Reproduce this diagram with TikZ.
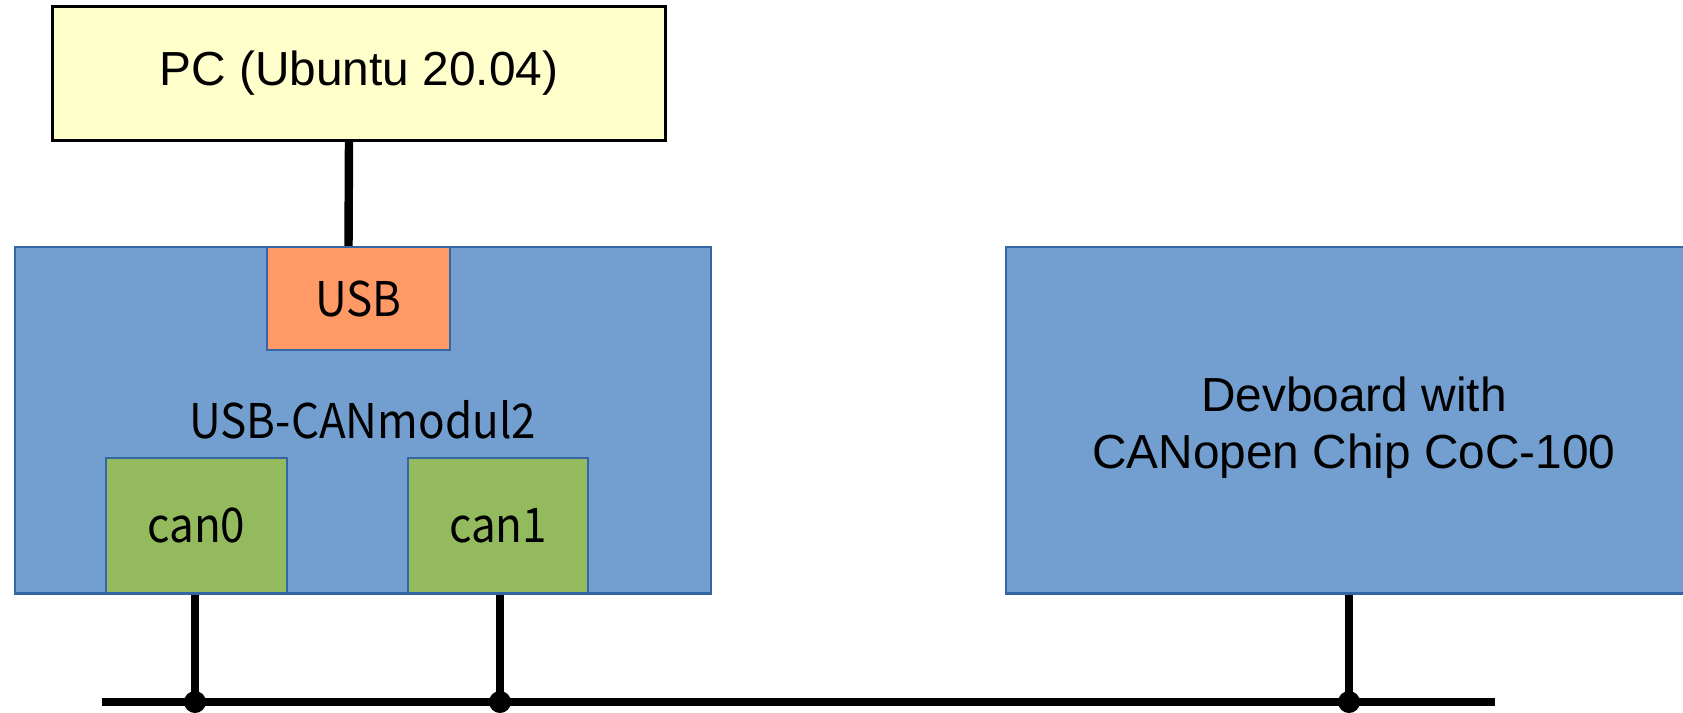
\documentclass[tikz,border=0pt]{standalone}
\usepackage{fontspec}
\setmainfont{Liberation Sans}
\newfontfamily\portfont[FakeStretch=0.92]{Noto Sans CJK SC}
\usetikzlibrary{positioning}
\definecolor{pcyellow}{HTML}{FFFFCC}
\definecolor{boardblue}{HTML}{729FCF}
\definecolor{boardedge}{HTML}{3465A4}
\definecolor{usborange}{HTML}{FF9966}
\definecolor{cangreen}{HTML}{93BB5E}

\begin{document}
\begin{tikzpicture}[line cap=butt,
  board/.style={draw=boardedge,fill=boardblue,line width=0.6pt,inner sep=0pt,
    minimum width=6.96cm,minimum height=3.465cm},
  port/.style={draw=boardedge,line width=0.6pt,inner sep=0pt,
    font=\portfont\fontsize{13.6}{16.4}\selectfont},
  wire/.style={line width=2.4pt},
  tap/.style={circle,fill=black,inner sep=0pt,minimum size=0.22cm}]
\useasboundingbox (0,0) rectangle (16.83,7.12);

% host PC
\node[draw,fill=pcyellow,line width=0.8pt,minimum width=6.13cm,minimum height=1.34cm,
  font=\fontsize{13.6}{16.4}\selectfont] (pc) at (3.59,6.385) {PC (Ubuntu 20.04)};

% USB-CANmodul2 and its ports
\node[board,font=\portfont\fontsize{13.6}{16.4}\selectfont] (modul) at (3.627,2.918) {USB-CANmodul2};
\node[port,fill=usborange,minimum width=1.83cm,minimum height=1.03cm] (usb) at (3.585,4.135) {USB};
\node[port,fill=cangreen,minimum width=1.806cm,minimum height=1.355cm] (can0) at (1.963,1.863) {can0};
\node[port,fill=cangreen,minimum width=1.806cm,minimum height=1.355cm] (can1) at (4.98,1.863) {can1};

% CANopen device
\node[board,label={[align=center,yshift=-0.75mm,font=\fontsize{13.6}{16.4}\selectfont]center:Devboard with\\CANopen Chip CoC-100}]
  (dev) at (13.54,2.918) {};

% USB cable
\draw[wire] ([xshift=-1mm]pc.south) -- ([xshift=-1mm]usb.north);

% CAN bus
\coordinate (busL) at (1.017,0.10);
\coordinate (busR) at (14.95,0.10);
\draw[wire] (busL) -- (busR);
\node[tap] (t0) at (1.95,0.10) {};
\node[tap] (t1) at (5.00,0.10) {};
\node[tap] (t2) at (13.49,0.10) {};
\draw[wire] (can0.south -| t0) -- (t0.center);
\draw[wire] (can1.south -| t1) -- (t1.center);
\draw[wire] (dev.south -| t2) -- (t2.center);
\end{tikzpicture}
\end{document}
